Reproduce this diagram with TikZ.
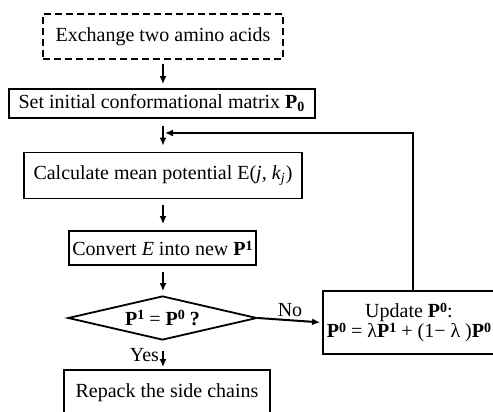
\documentclass[tikz,border=0pt]{standalone}
\usepackage{fontspec}
\setmainfont{Liberation Serif}
\usetikzlibrary{arrows.meta,shapes.geometric}
\tikzset{
  >=Latex,
  stepbox/.style={
    rectangle, draw=black, line width=0.9pt, inner sep=0pt,
    align=center, font=\fontsize{10}{10}\selectfont
  },
  startbox/.style={stepbox, dash pattern=on 3.5pt off 2pt},
  decision/.style={
    diamond, draw=black, line width=0.9pt, inner sep=0pt, aspect=4.3,
    font=\fontsize{10}{10}\selectfont
  },
  arrow/.style={-{Latex[length=4pt,width=3.5pt]}, line width=1pt,
    shorten <=3pt, shorten >=3pt},
  branch/.style={font=\fontsize{10}{10}\selectfont, inner sep=1.5pt}
}
% bold P with a small raised bold digit
\newcommand{\Pb}[1]{\textbf{P}\raisebox{0.55ex}{\fontsize{7}{7}\selectfont\textbf{#1}}}

\begin{document}
\begin{tikzpicture}[x=0.5pt,y=-0.5pt]
\useasboundingbox (0,0) rectangle (493,412);
\clip (0,0) rectangle (493,412);
\coordinate (spine) at (163,0);
\node[startbox, minimum width=120pt, minimum height=22.5pt] (exch) at (163,36.5) {Exchange two amino acids};
\node[stepbox, minimum width=153pt, minimum height=14.5pt] (init) at (162,103.5) {Set initial conformational matrix \textbf{P}\textsubscript{\textbf{0}}};
\node[stepbox, minimum width=139pt, minimum height=23pt] (calc) at (163,175.5) {Calculate mean potential E(\textit{j}, \textit{k}\textsubscript{\textit{j}})};
\node[stepbox, minimum width=93.5pt, minimum height=17pt] (conv) at (162.5,248) {Convert \textit{E} into new \Pb{1}};
\node[decision, minimum width=94.5pt, minimum height=22pt] (test) at (162.5,318) {\Pb{1} = \Pb{0} \textbf{?}};
\node[stepbox, minimum width=86pt, minimum height=31.5pt] (upd) at (409,322.5) {Update \Pb{0}:\\\Pb{0} = λ\Pb{1} + (1− λ )\Pb{0}};
\node[stepbox, minimum width=103pt, minimum height=23pt] (rep) at (167,393) {Repack the side chains};
% main flow
\coordinate (join) at (163,133);
\coordinate (loop) at (413,133);
\draw[arrow, shorten <=2pt, shorten >=2pt] (exch.south -| spine) -- (init.north -| spine);
\draw[line width=1pt, shorten <=3.5pt] (init.south -| spine) -- (join);
\draw[arrow, shorten <=0pt] (join) -- (calc.north -| spine);
\draw[arrow] (calc.south -| spine) -- (conv.north -| spine);
\draw[arrow, shorten >=2pt] (conv.south -| spine) -- (test.north -| spine);
\draw[arrow, shorten <=5pt, shorten >=1pt] (test.south -| spine) -- (rep.north -| spine)
  node[branch, left, midway] {Yes};
\draw[arrow, shorten <=0pt, shorten >=1pt] (test.east) -- (upd.west)
  node[branch, above, midway] {No};
% feedback loop
\draw[arrow, shorten <=0pt, shorten >=1pt] (upd.north -| loop) -- (loop) -- (join);
\end{tikzpicture}
\end{document}
